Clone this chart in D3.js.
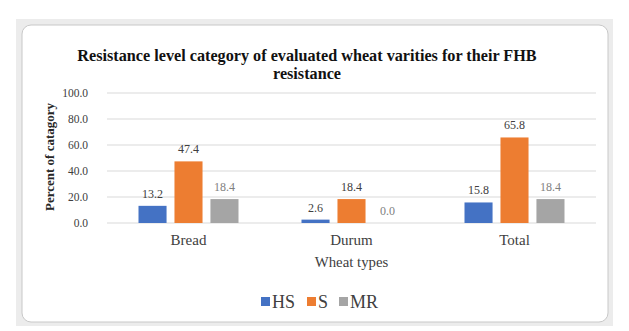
<!DOCTYPE html>
<html>
<head>
<meta charset="utf-8">
<script src="https://cdn.jsdelivr.net/npm/d3@7"></script>
<style>
  body { margin: 0; background: #fff; }
  svg text { font-family: "Liberation Serif", "Times New Roman", Times, "DejaVu Serif", serif; }
</style>
</head>
<body>
<div id="chart"></div>
<script>
// data
const categories = ["Bread", "Durum", "Total"];
const seriesNames = ["HS", "S", "MR"];
const hsValues = [13.2, 2.6, 15.8];
const sValues = [47.4, 18.4, 65.8];
const mrValues = [18.4, 0.0, 18.4];
const yTicks = [0, 20, 40, 60, 80, 100];
const colors = ["#4472C4", "#ED7D31", "#A5A5A5"];

const W = 629, H = 331;
const svg = d3.select("#chart").append("svg")
  .attr("width", W).attr("height", H);

// outer frame (word chart border)
svg.append("rect")
  .attr("x", 16).attr("y", 19).attr("width", 597).attr("height", 307)
  .attr("fill", "#ececec");
svg.append("rect")
  .attr("x", 22).attr("y", 25).attr("width", 586).attr("height", 297)
  .attr("rx", 9).attr("fill", "#fff").attr("stroke", "#c8c8c8");

// plot area
const plotLeft = 107, plotRight = 596, plotTop = 93, plotBottom = 223;

const x = d3.scaleBand().domain(categories).range([plotLeft, plotRight])
  .paddingInner(0).paddingOuter(0);
const x1 = d3.scaleBand().domain(seriesNames).range([31.5, x.bandwidth() - 31.5])
  .paddingInner(0.22).paddingOuter(0);
const y = d3.scaleLinear().domain([0, 100]).range([plotBottom, plotTop]);

// gridlines
svg.append("g").selectAll("line")
  .data(yTicks)
  .enter().append("line")
  .attr("x1", plotLeft).attr("x2", plotRight)
  .attr("y1", d => y(d)).attr("y2", d => y(d))
  .attr("stroke", "#d9d9d9").attr("stroke-width", 1);

// y axis tick labels
const yAxis = svg.append("g")
  .attr("transform", "translate(" + (plotLeft - 19) + ",0)")
  .call(d3.axisLeft(y).tickValues(yTicks).tickFormat(d3.format(".1f")).tickSize(0).tickPadding(0));
yAxis.select(".domain").remove();
yAxis.attr("font-family", null);
yAxis.selectAll("text")
  .attr("font-size", 11.5)
  .attr("fill", "#404040");

// bars
const rows = categories.map((c, i) => ({
  cat: c,
  vals: [hsValues[i], sValues[i], mrValues[i]]
}));

const groups = svg.selectAll(".grp")
  .data(rows)
  .enter().append("g")
  .attr("transform", d => "translate(" + x(d.cat) + ",0)");

groups.selectAll("rect")
  .data(d => d.vals.map((v, j) => ({ key: seriesNames[j], v: v, j: j })))
  .enter().append("rect")
  .attr("x", d => x1(d.key))
  .attr("y", d => y(d.v))
  .attr("width", x1.bandwidth())
  .attr("height", d => plotBottom - y(d.v))
  .attr("fill", d => colors[d.j]);

groups.selectAll(".lbl")
  .data(d => d.vals.map((v, j) => ({ key: seriesNames[j], v: v, j: j })))
  .enter().append("text")
  .attr("x", d => x1(d.key) + x1.bandwidth() / 2)
  .attr("y", d => y(d.v) - 8)
  .attr("text-anchor", "middle")
  .attr("font-size", 12)
  .attr("fill", d => d.j == 2 ? "#7f7f7f" : "#404040")
  .text(d => d3.format(".1f")(d.v));

// x axis labels
const xAxis = svg.append("g")
  .attr("transform", "translate(0," + plotBottom + ")")
  .call(d3.axisBottom(x).tickSize(0).tickPadding(11));
xAxis.select(".domain").remove();
xAxis.attr("font-family", null);
xAxis.selectAll("text")
  .attr("font-size", 15)
  .attr("fill", "#404040");

// axis titles
svg.append("text")
  .attr("x", (plotLeft + plotRight) / 2).attr("y", 267)
  .attr("text-anchor", "middle").attr("font-size", 14.8).attr("fill", "#404040")
  .text("Wheat types");

svg.append("text")
  .attr("transform", "translate(54,157) rotate(-90)")
  .attr("text-anchor", "middle").attr("font-size", 13).attr("font-weight", "bold")
  .attr("fill", "#262626")
  .text("Percent  of catagory");

// chart title
svg.append("text")
  .attr("x", 307).attr("y", 61)
  .attr("text-anchor", "middle").attr("font-size", 16.2).attr("font-weight", "bold")
  .attr("fill", "#111")
  .text("Resistance level category of evaluated wheat varities for their FHB");
svg.append("text")
  .attr("x", 307).attr("y", 79)
  .attr("text-anchor", "middle").attr("font-size", 16.2).attr("font-weight", "bold")
  .attr("fill", "#111")
  .text("resistance");

// legend
const legendX = [261, 307, 339];
const legend = svg.append("g").selectAll("g")
  .data(seriesNames)
  .enter().append("g")
  .attr("transform", (d, i) => "translate(" + legendX[i] + ",297)");
legend.append("rect")
  .attr("width", 9).attr("height", 9)
  .attr("fill", (d, i) => colors[i]);
legend.append("text")
  .attr("x", 11).attr("y", 11)
  .attr("font-size", 18).attr("fill", "#404040")
  .text(d => d);
</script>
</body>
</html>
